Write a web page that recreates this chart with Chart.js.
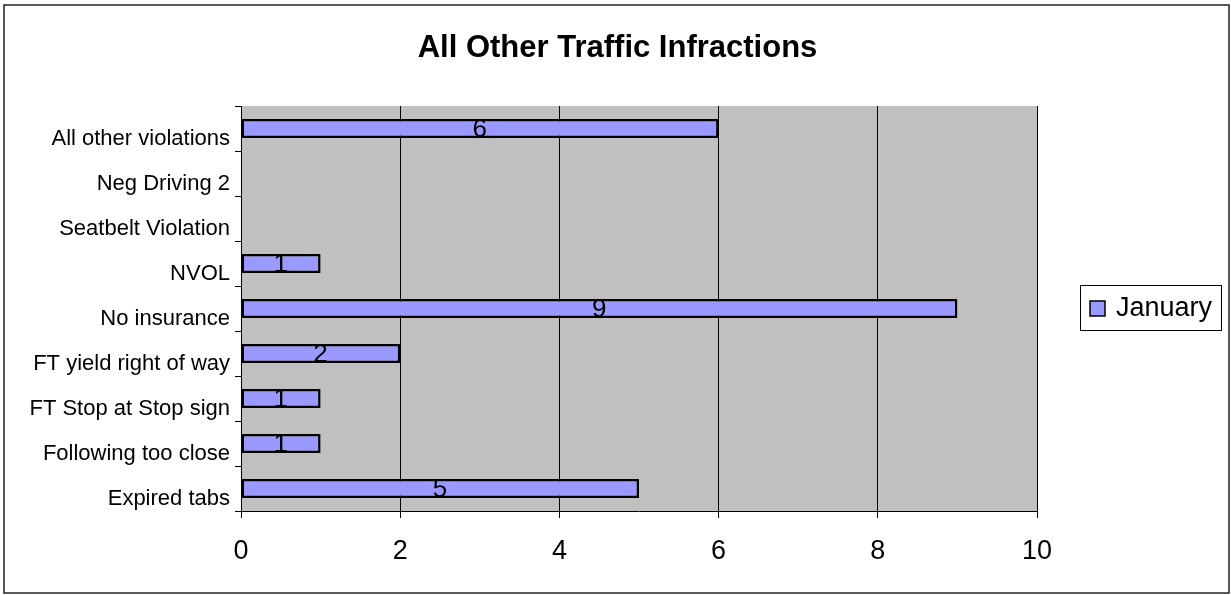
<!DOCTYPE html>
<html>
<head>
<meta charset="utf-8">
<title>All Other Traffic Infractions</title>
<script src="https://cdn.jsdelivr.net/npm/chart.js@4.4.1/dist/chart.umd.min.js"></script>
<style>
  html,body{margin:0;padding:0;background:#fff;}
  #wrap{width:1231px;height:595px;position:relative;}
</style>
</head>
<body>
<div id="wrap"><canvas id="chart" width="1231" height="595"></canvas></div>
<script>
/* All Other Traffic Infractions - January */
const chartTitle = 'All Other Traffic Infractions';
const categories = ['All other violations','Neg Driving 2','Seatbelt Violation','NVOL','No insurance','FT yield right of way','FT Stop at Stop sign','Following too close','Expired tabs'];
const january = [6, null, null, 1, 9, 2, 1, 1, 5];
const xTicks = [0, 2, 4, 6, 8, 10];

const FONT = 'Arial, "Liberation Sans", sans-serif';

// fondo gris del area de trazado
const plotBg = {
  id:'plotBg',
  beforeDraw(chart){
    const {ctx, chartArea:a} = chart;
    ctx.save(); ctx.fillStyle = '#C0C0C0';
    ctx.fillRect(a.left, a.top, a.right-a.left, a.bottom-a.top);
    ctx.restore();
  }
};

// etiquetas de valor en el centro de cada barra
const barLabels = {
  id:'barLabels',
  afterDatasetsDraw(chart){
    const {ctx} = chart;
    const xs = chart.scales.x;
    ctx.save();
    ctx.font = '26px '+FONT; ctx.fillStyle = '#000';
    ctx.textAlign = 'center'; ctx.textBaseline = 'middle';
    chart.getDatasetMeta(0).data.forEach((bar,i)=>{
      const v = january[i];
      if(v==null) return;
      ctx.fillText(String(v), xs.getPixelForValue(v/2), bar.y+1);
    });
    ctx.restore();
  }
};

// titulo, leyenda y marco exterior
const legendFrame = {
  id:'legendFrame',
  afterDraw(chart){
    const {ctx} = chart;
    const ds = chart.data.datasets[0];
    ctx.save();
    ctx.fillStyle = '#000';
    ctx.font = 'bold 31px '+FONT; ctx.textAlign = 'center'; ctx.textBaseline = 'middle';
    ctx.fillText(chartTitle, 617.5, 48);
    ctx.strokeStyle = '#000'; ctx.lineWidth = 1;
    ctx.strokeRect(1080.5, 285.5, 141, 45);
    ctx.fillStyle = ds.backgroundColor;
    ctx.fillRect(1090, 301, 15, 15);
    ctx.lineWidth = 1.5;
    ctx.strokeRect(1090, 301, 15, 15);
    ctx.fillStyle = '#000';
    ctx.font = '27px '+FONT; ctx.textAlign = 'left'; ctx.textBaseline = 'middle';
    ctx.fillText(ds.label, 1116, 309);
    ctx.strokeStyle = '#222'; ctx.lineWidth = 1.5;
    ctx.strokeRect(4, 5, 1225, 588);
    ctx.restore();
  }
};

new Chart(document.getElementById('chart'), {
  type:'bar',
  data:{
    labels: categories,
    datasets:[{
      label:'January',
      data: january,
      backgroundColor:'#9999FF',
      borderColor:'#000',
      borderWidth:2.5,
      borderSkipped:false,
      barPercentage:0.42,
      categoryPercentage:1
    }]
  },
  options:{
    indexAxis:'y',
    responsive:false,
    animation:false,
    layout:{padding:{left:0, right:194, top:106, bottom:0}},
    plugins:{
      legend:{display:false},
      tooltip:{enabled:false},
      title:{display:false}
    },
    scales:{
      x:{
        min:0, max:10,
        afterBuildTicks(s){ s.ticks = xTicks.map(v=>({value:v})); },
        afterFit(s){ s.height = 84; },
        grid:{color:'#000', lineWidth:1, tickLength:7, drawTicks:true},
        border:{color:'#000', width:1},
        ticks:{color:'#000', padding:17, font:{family:FONT, size:27}, maxRotation:0}
      },
      y:{
        afterFit(s){ s.width = 241; },
        grid:{offset:true, drawOnChartArea:false, color:'#000', tickLength:6},
        border:{color:'#000', width:1},
        ticks:{color:'#000', padding:5, labelOffset:10, font:{family:FONT, size:22}, autoSkip:false}
      }
    }
  },
  plugins:[plotBg, barLabels, legendFrame]
});
</script>
</body>
</html>
